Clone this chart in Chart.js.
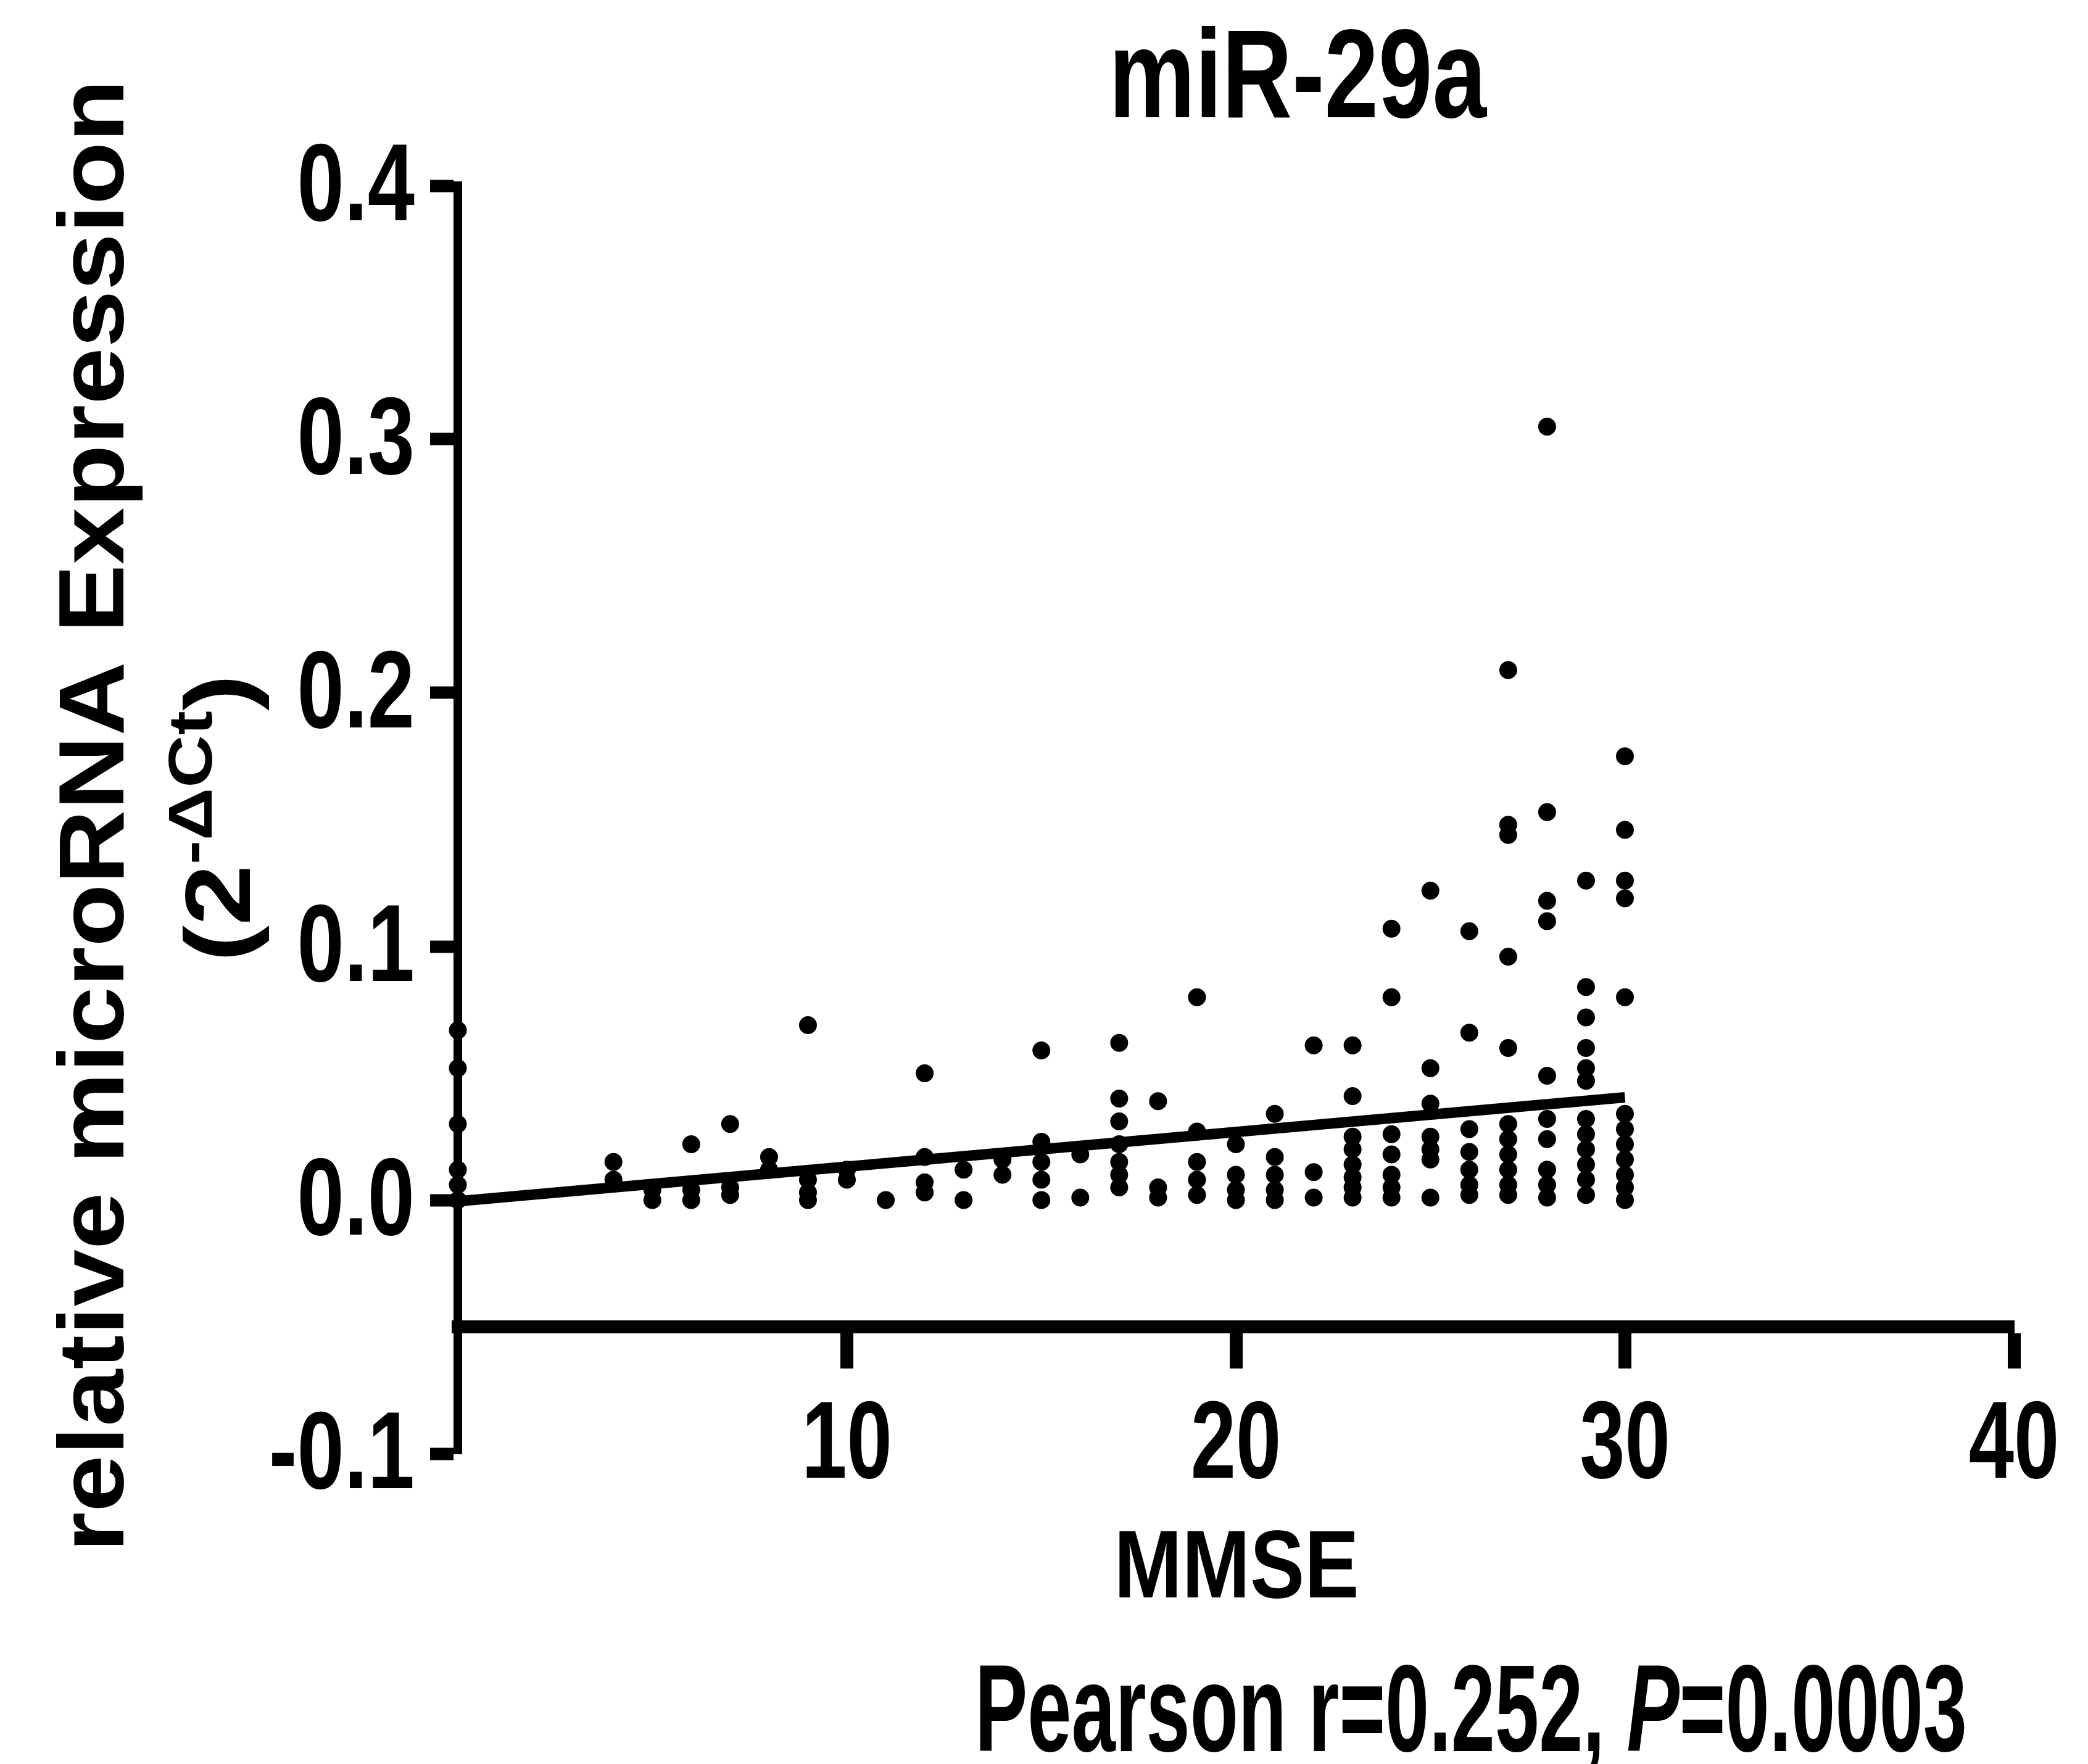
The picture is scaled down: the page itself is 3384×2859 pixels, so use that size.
<!DOCTYPE html>
<html>
<head>
<meta charset="utf-8">
<script src="https://cdn.jsdelivr.net/npm/chart.js@4.4.1/dist/chart.umd.min.js"></script>
<style>
  html, body { margin: 0; padding: 0; background: #fff; }
  #wrap { width: 3384px; height: 2859px; }
</style>
</head>
<body>
<div id="wrap"><canvas id="chart" width="3384" height="2859"></canvas></div>
<script>
const mmseLevels = [0, 4, 5, 6, 7, 8, 9, 10, 11, 12, 13, 14, 15, 16, 17, 18, 19, 20, 21, 22, 23, 24, 25, 26, 27, 28, 29, 30];
const expressionAtLevel = [
  [0.067, 0.052, 0.030, 0.012, 0.006, 0.000],
  [0.015, 0.008],
  [0.004, 0.000],
  [0.022, 0.004, 0.000],
  [0.030, 0.005, 0.002],
  [0.017, 0.012],
  [0.069, 0.008, 0.003, 0.000],
  [0.012, 0.008],
  [0.000],
  [0.050, 0.017, 0.007, 0.003],
  [0.012, 0.000],
  [0.016, 0.010],
  [0.059, 0.023, 0.015, 0.008, 0.000],
  [0.018, 0.001],
  [0.062, 0.040, 0.031, 0.022, 0.015, 0.010, 0.005],
  [0.039, 0.005, 0.001],
  [0.080, 0.027, 0.015, 0.008, 0.002],
  [0.022, 0.010, 0.004, 0.000],
  [0.034, 0.017, 0.010, 0.004, 0.000],
  [0.061, 0.011, 0.001],
  [0.061, 0.041, 0.025, 0.020, 0.014, 0.009, 0.005, 0.001],
  [0.107, 0.080, 0.026, 0.018, 0.010, 0.005, 0.001],
  [0.122, 0.052, 0.038, 0.025, 0.020, 0.016, 0.001],
  [0.106, 0.066, 0.028, 0.019, 0.012, 0.006, 0.002],
  [0.209, 0.148, 0.144, 0.096, 0.060, 0.030, 0.024, 0.018, 0.012, 0.006, 0.002],
  [0.305, 0.153, 0.118, 0.110, 0.049, 0.032, 0.024, 0.012, 0.006, 0.001],
  [0.126, 0.084, 0.072, 0.060, 0.052, 0.047, 0.032, 0.026, 0.020, 0.014, 0.008, 0.002],
  [0.175, 0.146, 0.126, 0.119, 0.080, 0.034, 0.028, 0.022, 0.016, 0.010, 0.005, 0.000]
];

// linear regression line end points
const fitX = [0, 30];
const fitY = [-0.0005, 0.0405];

const xTicks = [10, 20, 30, 40];
const yTicks = [-0.1, 0.0, 0.1, 0.2, 0.3, 0.4];

const FONT = "'Liberation Sans', Arial, Helvetica, sans-serif";

const points = [];
mmseLevels.forEach((score, i) => {
  expressionAtLevel[i].forEach(v => points.push({ x: score, y: v }));
});
const fitLine = fitX.map((x, i) => ({ x: x, y: fitY[i] }));

// draws a run of text pieces, squeezed or stretched along the text, anchored at (x, y)
// opts.width fixes the total width; otherwise opts.sx is the squeeze factor
function drawRun(ctx, runs, opts) {
  let natural = 0;
  runs.forEach(r => {
    ctx.font = `${r.style} ${r.size}px ${FONT}`;
    r.w = ctx.measureText(r.text).width;
    natural += r.w;
  });
  const sx = opts.width ? opts.width / natural : opts.sx;
  ctx.save();
  ctx.translate(opts.x, opts.y);
  if (opts.rotate) ctx.rotate(-Math.PI / 2);
  ctx.scale(sx, 1);
  ctx.fillStyle = '#000';
  ctx.textAlign = 'left';
  ctx.textBaseline = 'alphabetic';
  let cx = opts.align === 'right' ? -natural : -natural / 2;
  runs.forEach(r => {
    ctx.font = `${r.style} ${r.size}px ${FONT}`;
    ctx.fillText(r.text, cx, -(r.rise || 0));
    cx += r.w;
  });
  ctx.restore();
}

const figureText = {
  id: 'figureText',
  afterDraw(chart) {
    const ctx = chart.ctx;
    const xs = chart.scales.x;
    const ys = chart.scales.y;

    // tick labels, placed by the scales
    xs.ticks.forEach(t => {
      drawRun(ctx, [{ text: String(t.value), size: 178, style: 'bold' }],
        { x: xs.getPixelForValue(t.value), y: 2395, sx: 0.74 });
    });
    ys.ticks.forEach(t => {
      drawRun(ctx, [{ text: t.value.toFixed(1), size: 178, style: 'bold' }],
        { x: 672, y: ys.getPixelForValue(t.value) + 56, sx: 0.77, align: 'right' });
    });

    drawRun(ctx, [{ text: 'miR-29a', size: 205, style: 'bold' }], { x: 2103, y: 190, width: 612 });
    drawRun(ctx, [{ text: 'MMSE', size: 155, style: 'bold' }], { x: 2004, y: 2589, width: 397 });
    drawRun(ctx, [
      { text: 'Pearson r=0.252, ', size: 200, style: 'bold' },
      { text: 'P', size: 200, style: 'italic bold' },
      { text: '=0.0003', size: 200, style: 'bold' }
    ], { x: 2384, y: 2838, width: 1608 });
    drawRun(ctx, [{ text: 'relative microRNA Expression', size: 150, style: 'bold' }],
      { x: 200, y: 1322, width: 2387, rotate: true });
    drawRun(ctx, [
      { text: '(2', size: 150, style: 'bold' },
      { text: '-\u0394Ct', size: 100, style: 'bold', rise: 62 },
      { text: ')', size: 150, style: 'bold' }
    ], { x: 405, y: 1326, width: 466, rotate: true });
  }
};

function makeChart() {
  const ctx = document.getElementById('chart').getContext('2d');
  new Chart(ctx, {
    type: 'scatter',
    data: {
      datasets: [
        {
          label: 'miR-29a',
          data: points,
          pointRadius: 14.5,
          pointHoverRadius: 14.5,
          pointBackgroundColor: '#000',
          pointBorderWidth: 0,
          showLine: false,
          clip: false
        },
        {
          type: 'line',
          label: 'fit',
          data: fitLine,
          borderColor: '#000',
          borderWidth: 17,
          pointRadius: 0,
          fill: false,
          tension: 0,
          clip: false
        }
      ]
    },
    options: {
      responsive: false,
      devicePixelRatio: 1,
      animation: false,
      events: [],
      layout: { padding: { left: 0, right: 120, top: 301, bottom: 503 } },
      plugins: {
        legend: { display: false },
        tooltip: { enabled: false },
        title: { display: false }
      },
      scales: {
        x: {
          type: 'linear',
          min: 0,
          max: 40,
          position: { y: -0.05 },
          afterBuildTicks: axis => { axis.ticks = xTicks.map(v => ({ value: v })); },
          ticks: { display: false },
          grid: { display: true, drawOnChartArea: false, drawTicks: true, tickLength: 57, tickWidth: 21, tickColor: '#000' },
          border: { display: true, color: '#000', width: 21 }
        },
        y: {
          type: 'linear',
          min: -0.1,
          max: 0.4,
          afterBuildTicks: axis => { axis.ticks = yTicks.map(v => ({ value: v })); },
          afterFit: axis => { axis.width = 742; },
          ticks: { display: false },
          grid: { display: true, drawOnChartArea: false, drawTicks: true, tickLength: 45, tickWidth: 20, tickColor: '#000' },
          border: { display: true, color: '#000', width: 14 }
        }
      }
    },
    plugins: [figureText]
  });
}

Promise.all([
  document.fonts.load(`bold 100px 'Liberation Sans'`),
  document.fonts.load(`italic bold 100px 'Liberation Sans'`)
]).catch(() => null).then(makeChart);
</script>
</body>
</html>
